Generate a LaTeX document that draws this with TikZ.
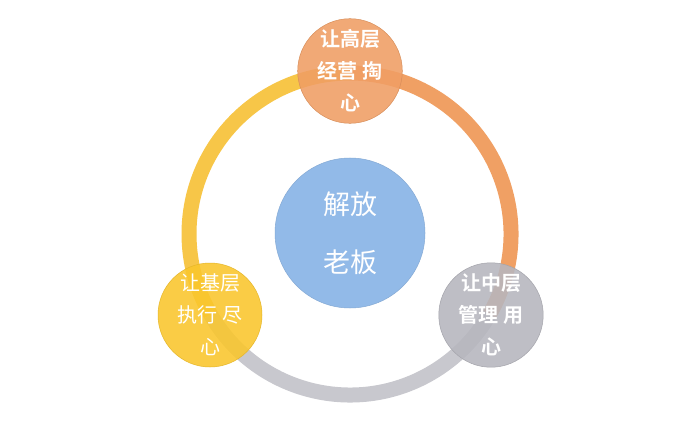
\documentclass[tikz,border=0pt]{standalone}
\usepackage{fontspec}
\newfontfamily\cjk{Noto Sans CJK SC}
\newfontfamily\cjkb{Noto Sans CJK SC Bold}
\definecolor{ringY}{RGB}{247,198,72}
\definecolor{ringO}{RGB}{240,160,100}
\definecolor{ringG}{RGB}{200,200,206}
\definecolor{ballY}{RGB}{250,198,44}
\definecolor{ballO}{RGB}{240,158,100}
\definecolor{ballG}{RGB}{182,182,190}
\definecolor{ballB}{RGB}{146,186,232}
\begin{document}
\begin{tikzpicture}[x=1pt,y=1pt,
  ring/.style={line width=15pt},
  ball/.style={circle, minimum size=104pt, inner sep=0pt, fill opacity=0.88, text opacity=1,
    align=center, text=white, font=\cjkb\fontsize{20}{32}\selectfont},
  core/.style={circle, minimum size=150pt, inner sep=0pt, fill=ballB, draw=ballB!92!black, line width=0.5pt,
    align=center, text=white, font=\cjk\fontsize{27}{58}\selectfont}]
\fill[white] (0,0) rectangle (700,426);
\useasboundingbox (0,0) rectangle (700,426);
\coordinate (c) at (350,192);
% ring
\draw[ring, ringY] ([shift={(90:161)}]c) arc[start angle=90, end angle=210, radius=161];
\draw[ring, ringO] ([shift={(-30:161)}]c) arc[start angle=-30, end angle=90, radius=161];
\draw[ring, ringG] ([shift={(210:161)}]c) arc[start angle=210, end angle=330, radius=161];
% centre
\node[core] (boss) at (350,193) {解放\\老板};
% satellites
\node[ball, fill=ballO, draw=ballO!90!black, line width=0.5pt] (high) at (350,355) {让高层\\经营 掏\\心};
\node[ball, fill=ballY, draw=ballY!92!black, line width=0.5pt, font=\cjk\fontsize{20}{32}\selectfont] (base) at (210,111) {让基层\\执行 尽\\心};
\node[ball, fill=ballG, draw=ballG!90!black, line width=0.5pt] (mid) at (491,111) {让中层\\管理 用\\心};
\end{tikzpicture}
\end{document}
